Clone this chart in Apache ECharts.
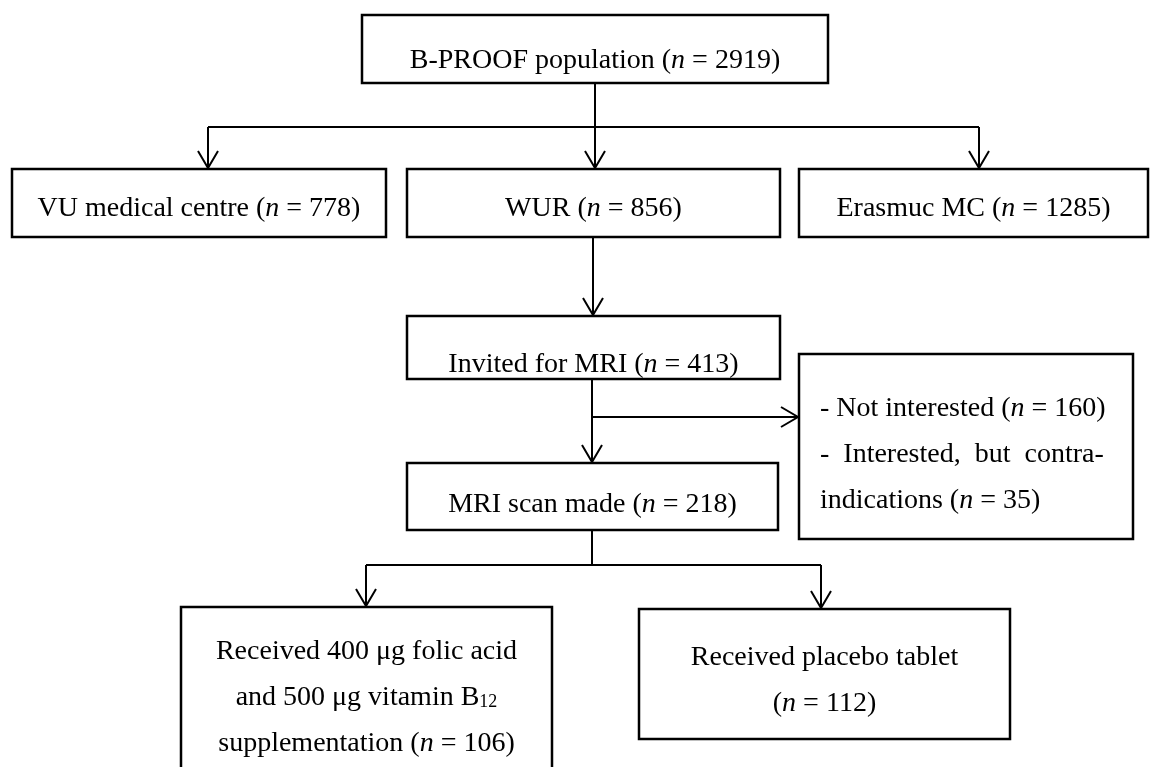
<!DOCTYPE html>
<html>
<head>
<meta charset="utf-8">
<script src="https://cdn.jsdelivr.net/npm/echarts@6/dist/echarts.min.js"></script>
<style>
html,body{margin:0;padding:0;background:#ffffff;}
#chart{width:1160px;height:767px;}
</style>
</head>
<body>
<div id="chart"></div>
<script>
// ---------------- data ----------------
const boxNames = [
  'B-PROOF population',
  'VU medical centre',
  'WUR',
  'Erasmuc MC',
  'Invited for MRI',
  'MRI scan made',
  'Received 400 μg folic acid and 500 μg vitamin B12 supplementation',
  'Received placebo tablet'
];
const boxCounts = [2919, 778, 856, 1285, 413, 218, 106, 112];
const exclusionReasons = ['Not interested', 'Interested, but contra-indications'];
const exclusionCounts = [160, 35];

// ---------------- layout (chart units) ----------------
// [x0, y0, x1, y1]; index 8 = exclusion box
const boxRects = [
  [362, 15, 828, 83],
  [12, 169, 386, 237],
  [407, 169, 780, 237],
  [799, 169, 1148, 237],
  [407, 316, 780, 379],
  [407, 463, 778, 530],
  [181, 607, 552, 800],
  [639, 609, 1010, 739],
  [799, 354, 1133, 539]
];
const textLineY = [[61], [209], [209], [209], [365], [505], [652, 698, 744], [658, 704], [408.5, 455, 501]];
const textLeftX = {8: 820};
// connectors: polyline points, arrow at end?
const connectors = [
  {pts: [[595, 83], [595, 127]], arrow: false},
  {pts: [[208, 127], [979, 127]], arrow: false},
  {pts: [[208, 127], [208, 168]], arrow: true},
  {pts: [[595, 127], [595, 168]], arrow: true},
  {pts: [[979, 127], [979, 168]], arrow: true},
  {pts: [[593, 237], [593, 315]], arrow: true},
  {pts: [[592, 379], [592, 462]], arrow: true},
  {pts: [[592, 417], [798, 417]], arrow: true},
  {pts: [[592, 530], [592, 565]], arrow: false},
  {pts: [[366, 565], [821, 565]], arrow: false},
  {pts: [[366, 565], [366, 606]], arrow: true},
  {pts: [[821, 565], [821, 608]], arrow: true}
];

// ---------------- text building ----------------
function nSegs(prefix, count) {
  return [[prefix + '(', 'r'], ['n', 'i'], [' = ' + count + ')', 'r']];
}
function toRich(segs) {
  return segs.map(s => '{' + s[1] + '|' + s[0] + '}').join('');
}
const boxLines = [];
for (let i = 0; i < 6; i++) boxLines.push([nSegs(boxNames[i] + ' ', boxCounts[i])]);
(function () {
  const w = boxNames[6].split(' ');
  const l2 = w.slice(5, 10).join(' ');
  const m = l2.match(/^(.*B)(\d+)$/);
  boxLines.push([
    [[w.slice(0, 5).join(' '), 'r']],
    [[m[1], 'r'], [m[2], 's']],
    nSegs(w.slice(10).join(' ') + ' ', boxCounts[6])
  ]);
})();
boxLines.push([[[boxNames[7], 'r']], nSegs('', boxCounts[7])]);
(function () {
  const parts = exclusionReasons[1].split('-');
  boxLines.push([
    nSegs('- ' + exclusionReasons[0] + ' ', exclusionCounts[0]),
    [['-  ' + parts[0].split(' ').join('  ') + '-', 'r']],
    nSegs(parts[1] + ' ', exclusionCounts[1])
  ]);
})();

const FONT = '"Liberation Serif", "Times New Roman", serif';
const rich = {
  r: {fontFamily: FONT, fontSize: 28, color: '#000'},
  i: {fontFamily: FONT, fontSize: 28, fontStyle: 'italic', color: '#000'},
  s: {fontFamily: FONT, fontSize: 18, color: '#000', padding: [8, 0, 0, 0]}
};

const chart = echarts.init(document.getElementById('chart'), null, {renderer: 'canvas'});
chart.setOption({
  animation: false,
  backgroundColor: '#ffffff',
  grid: {left: 0, right: 0, top: 0, bottom: 0},
  xAxis: {type: 'value', min: 0, max: 1160, show: false},
  yAxis: {type: 'value', min: 0, max: 767, inverse: true, show: false},
  series: [
    {
      type: 'custom',
      coordinateSystem: 'cartesian2d',
      clip: false,
      data: connectors.map((c, i) => [i]),
      renderItem: function (params, api) {
        const c = connectors[api.value(0)];
        const pts = c.pts.map(p => api.coord(p));
        const children = [{
          type: 'polyline',
          shape: {points: pts},
          style: {stroke: '#000', lineWidth: 2, fill: null}
        }];
        if (c.arrow) {
          const a = pts[pts.length - 2], b = pts[pts.length - 1];
          const dx = b[0] - a[0], dy = b[1] - a[1];
          const L = Math.sqrt(dx * dx + dy * dy);
          const ux = dx / L, uy = dy / L;
          const len = 17, hw = 10;
          children.push({
            type: 'polyline',
            shape: {points: [
              [b[0] - ux * len - uy * hw, b[1] - uy * len + ux * hw],
              [b[0], b[1]],
              [b[0] - ux * len + uy * hw, b[1] - uy * len - ux * hw]
            ]},
            style: {stroke: '#000', lineWidth: 2, fill: null}
          });
        }
        return {type: 'group', children: children};
      }
    },
    {
      type: 'custom',
      coordinateSystem: 'cartesian2d',
      clip: false,
      data: boxRects.map((r, i) => [i]),
      renderItem: function (params, api) {
        const idx = api.value(0);
        const r = boxRects[idx];
        const p0 = api.coord([r[0], r[1]]);
        const p1 = api.coord([r[2], r[3]]);
        const children = [{
          type: 'rect',
          shape: {x: p0[0], y: p0[1], width: p1[0] - p0[0], height: p1[1] - p0[1]},
          style: {fill: '#fff', stroke: '#000', lineWidth: 2.5}
        }];
        const lines = boxLines[idx];
        const left = textLeftX[idx];
        lines.forEach((segs, li) => {
          const x = left !== undefined ? left : (r[0] + r[2]) / 2;
          const pt = api.coord([x, textLineY[idx][li]]);
          children.push({
            type: 'text',
            x: pt[0], y: pt[1],
            style: {
              text: toRich(segs),
              rich: rich,
              align: left !== undefined ? 'left' : 'center',
              verticalAlign: 'middle'
            }
          });
        });
        return {type: 'group', children: children};
      }
    }
  ]
});
</script>
</body>
</html>
